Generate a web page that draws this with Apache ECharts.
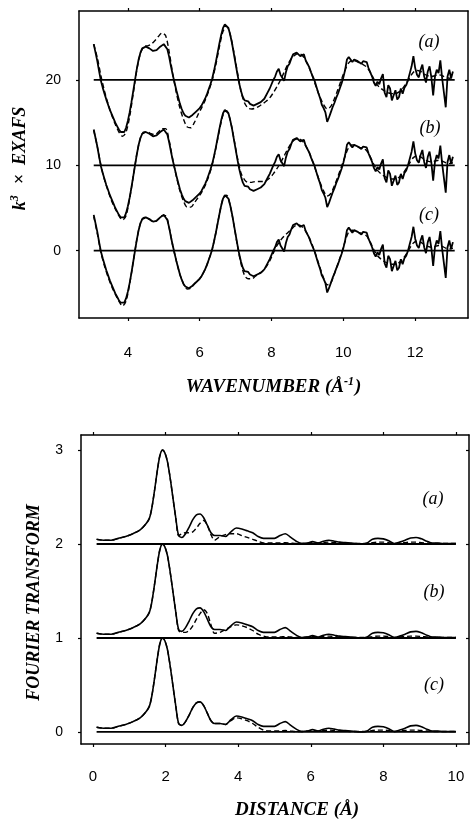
<!DOCTYPE html>
<html><head><meta charset="utf-8">
<script src="https://cdn.jsdelivr.net/npm/echarts@6/dist/echarts.min.js"></script>
<style>html,body{margin:0;padding:0;background:#fff}#c{width:470px;height:821px}</style>
</head><body><div id="c"></div>
<script>
// ---------- EXAFS (top panel) ----------
const exafsKStart = 3.05, exafsKStep = 0.05;
const exafsExp = [
 4.2, 3.2, 2.2, 1.0, -0.1, -0.9, -1.6, -2.3, -2.9, -3.5,
 -4.0, -4.5, -5.0, -5.4, -5.8, -6.1, -6.2, -6.1, -5.6, -4.8,
 -3.8, -2.6, -1.3, 0.0, 1.3, 2.4, 3.2, 3.7, 3.9, 3.9,
 3.8, 3.7, 3.5, 3.4, 3.4, 3.5, 3.7, 3.9, 4.1, 4.2,
 4.1, 3.6, 2.7, 1.6, 0.6, -0.3, -1.2, -2.0, -2.8, -3.4,
 -3.9, -4.2, -4.4, -4.4, -4.3, -4.1, -3.9, -3.7, -3.5, -3.3,
 -3.0, -2.6, -2.2, -1.7, -1.1, -0.5, 0.2, 1.1, 2.1, 3.2,
 4.3, 5.3, 6.1, 6.5, 6.5, 6.1, 5.3, 4.3, 3.1, 1.9,
 0.7, -0.4, -1.3, -2.0, -2.4, -2.6, -2.5, -2.8, -2.7, -3.0,
 -3.1, -2.8, -3.0, -2.6, -2.5, -2.2, -2.0, -1.4, -1.0, -0.5,
 0.0, 0.4, 1.0, 1.3, 0.6, 0.5, -0.1, 0.9, 1.6, 1.9,
 2.5, 3.0, 2.8, 3.2, 3.3, 2.8, 2.9, 3.0, 2.3, 1.9,
 1.5, 0.9, 0.4, -0.1, -0.8, -1.5, -2.1, -2.9, -3.3, -3.8,
 -4.9, -4.4, -3.8, -3.2, -2.7, -2.1, -1.6, -1.0, -0.4, 0.3,
 1.2, 2.4, 2.7, 2.5, 2.1, 2.4, 2.5, 2.2, 2.0, 1.9,
 2.2, 2.0, 2.1, 1.4, 0.9, 0.4, -0.3, -0.7, -0.2, -0.5,
 0.2, 0.7, -1.5, -2.0, -0.6, -1.0, -2.4, -1.8, -1.2, -2.3,
 -2.0, -1.0, -1.6, -0.9, -0.6, 0.0, 0.8, 1.6, 2.8, 1.4,
 0.6, 0.3, 1.2, 1.8, 0.4, -0.3, 1.0, 1.6, 0.3, -1.8,
 0.4, 1.2, 0.8, 2.3, 0.2, -1.5, -3.2, 0.4, 1.2, 0.2,
 1.0
];
const fitKStart = 3.05, fitKStep = 0.1;
const exafsFitA = [
 4.2, 2.6, 0.5, -1.3, -2.8, -4.1, -5.2, -6.1, -6.6, -6.1,
 -4.3, -1.6, 1.2, 3.1, 3.9, 4.0, 4.2, 4.6, 5.1, 5.5,
 5.2, 3.3, 0.7, -1.5, -3.3, -4.6, -5.5, -5.6, -5.0, -4.1,
 -3.3, -2.4, -1.3, 0.0, 1.8, 3.9, 5.7, 6.3, 5.3, 3.3,
 0.9, -1.3, -2.7, -3.3, -3.4, -3.3, -3.1, -2.8, -2.5, -2.1,
 -1.5, -0.8, 0.0, 0.9, 1.8, 2.5, 2.9, 3.1, 2.9, 2.3,
 1.4, 0.3, -0.9, -2.0, -2.9, -3.4, -3.1, -2.2, -1.1, 0.1,
 1.2, 2.0, 2.3, 2.2, 2.0, 1.8, 1.5, 0.9, 0.1, -0.6,
 -1.0, -1.3, -1.5, -1.6, -1.6, -1.4, -1.0, -0.4, 0.3, 0.9,
 1.1, 1.0, 0.7, 0.5, 0.4, 0.5, 0.6, 0.5, 0.3, 0.2,
 0.3
];
const exafsFitB = [
 4.1, 2.2, 0.0, -1.7, -3.0, -4.2, -5.1, -5.9, -6.4, -5.9,
 -3.9, -1.3, 1.3, 3.2, 3.9, 3.9, 3.7, 3.6, 3.9, 4.3,
 4.3, 2.9, 0.7, -1.3, -3.0, -4.2, -4.9, -4.9, -4.4, -3.8,
 -3.2, -2.4, -1.3, 0.1, 2.0, 4.1, 5.9, 6.4, 5.3, 3.2,
 0.9, -0.9, -1.7, -2.0, -2.0, -1.9, -1.9, -1.9, -1.8, -1.5,
 -1.0, -0.4, 0.3, 1.1, 1.9, 2.6, 3.0, 3.1, 2.9, 2.3,
 1.5, 0.4, -0.8, -2.0, -3.0, -3.6, -3.3, -2.4, -1.3, -0.1,
 1.1, 2.1, 2.4, 2.3, 2.1, 2.0, 1.7, 1.0, 0.1, -0.6,
 -1.0, -1.3, -1.5, -1.6, -1.6, -1.4, -1.0, -0.4, 0.3, 0.9,
 1.1, 1.0, 0.7, 0.5, 0.4, 0.5, 0.6, 0.5, 0.3, 0.2,
 0.3
];
const exafsFitC = [
 4.0, 2.0, -0.2, -1.8, -3.1, -4.2, -5.1, -5.9, -6.5, -5.9,
 -3.9, -1.3, 1.3, 3.2, 3.9, 3.8, 3.5, 3.4, 3.7, 4.1,
 4.1, 2.7, 0.6, -1.2, -2.8, -3.9, -4.5, -4.4, -3.9, -3.5,
 -3.0, -2.2, -1.1, 0.2, 2.1, 4.3, 6.1, 6.5, 5.3, 3.1,
 0.6, -1.5, -2.9, -3.3, -3.3, -3.0, -2.7, -2.4, -1.9, -1.2,
 -0.3, 0.6, 1.2, 1.7, 2.1, 2.5, 2.9, 3.0, 2.8, 2.3,
 1.5, 0.5, -0.7, -2.0, -3.2, -4.0, -3.8, -2.7, -1.5, -0.3,
 1.1, 2.2, 2.4, 2.3, 2.1, 2.0, 1.7, 1.0, 0.1, -0.6,
 -1.0, -1.3, -1.5, -1.6, -1.6, -1.4, -1.0, -0.4, 0.3, 0.9,
 1.1, 1.0, 0.7, 0.5, 0.4, 0.5, 0.6, 0.5, 0.3, 0.2,
 0.3
];
const exafsOffsets = [20, 10, 0];
const exafsBaseRange = [3.05, 13.1];
const exafsXTicks = [4, 6, 8, 10, 12];
const exafsYTicks = [0, 10, 20];

// ---------- Fourier transform (bottom panel) ----------
const ftR = [
 0.1, 0.3, 0.5, 0.7, 0.9, 1.1, 1.3, 1.45, 1.55, 1.62,
 1.7, 1.78, 1.85, 1.92, 1.98, 2.05, 2.12, 2.2, 2.28, 2.36,
 2.45, 2.55, 2.65, 2.75, 2.85, 2.95, 3.05, 3.15, 3.25, 3.35,
 3.5, 3.65, 3.8, 3.95, 4.1, 4.25, 4.4, 4.55, 4.7, 4.85,
 5.0, 5.15, 5.3, 5.45, 5.6, 5.75, 5.9, 6.05, 6.2, 6.35,
 6.5, 6.65, 6.8, 6.95, 7.1, 7.25, 7.4, 7.55, 7.7, 7.85,
 8.0, 8.15, 8.3, 8.45, 8.6, 8.75, 8.9, 9.05, 9.2, 9.35,
 9.5, 9.65, 9.8, 10.0
];
const ftExp = [
 0.05, 0.04, 0.04, 0.06, 0.08, 0.11, 0.15, 0.21, 0.27, 0.38,
 0.58, 0.80, 0.95, 1.00, 0.97, 0.88, 0.72, 0.50, 0.28, 0.09,
 0.07, 0.11, 0.18, 0.26, 0.31, 0.32, 0.28, 0.20, 0.12, 0.09,
 0.09, 0.08, 0.13, 0.17, 0.16, 0.14, 0.12, 0.08, 0.06, 0.06,
 0.06, 0.09, 0.11, 0.07, 0.03, 0.005, 0.01, 0.025, 0.01, 0.03,
 0.04, 0.03, 0.02, 0.015, 0.01, 0.005, 0.0, 0.01, 0.05, 0.06,
 0.055, 0.035, 0.005, 0.02, 0.04, 0.065, 0.07, 0.055, 0.03, 0.01,
 0.01, 0.005, 0.005, 0.005
];
const ftFitA = [
 0.05, 0.04, 0.04, 0.06, 0.08, 0.11, 0.15, 0.21, 0.27, 0.38,
 0.58, 0.80, 0.95, 1.00, 0.97, 0.88, 0.72, 0.50, 0.28, 0.09,
 0.11, 0.12, 0.12, 0.13, 0.17, 0.22, 0.25, 0.20, 0.10, 0.04,
 0.08, 0.10, 0.11, 0.11, 0.09, 0.07, 0.05, 0.03, 0.01, 0.01,
 0.01, 0.01, 0.015, 0.01, 0.005, 0.005, 0.01, 0.015, 0.01, 0.015,
 0.02, 0.015, 0.01, 0.01, 0.005, 0.005, 0.005, 0.005, 0.015, 0.02,
 0.02, 0.015, 0.005, 0.01, 0.015, 0.02, 0.02, 0.015, 0.01, 0.005,
 0.005, 0.005, 0.005, 0.005
];
const ftFitB = [
 0.05, 0.04, 0.04, 0.06, 0.08, 0.11, 0.15, 0.21, 0.27, 0.38,
 0.58, 0.80, 0.95, 1.00, 0.97, 0.88, 0.72, 0.50, 0.28, 0.08,
 0.06, 0.06, 0.08, 0.13, 0.20, 0.26, 0.30, 0.26, 0.14, 0.05,
 0.06, 0.09, 0.12, 0.14, 0.13, 0.11, 0.08, 0.04, 0.02, 0.01,
 0.01, 0.01, 0.015, 0.01, 0.005, 0.005, 0.01, 0.015, 0.01, 0.015,
 0.02, 0.015, 0.01, 0.01, 0.005, 0.005, 0.005, 0.005, 0.015, 0.02,
 0.02, 0.015, 0.005, 0.01, 0.015, 0.02, 0.02, 0.015, 0.01, 0.005,
 0.005, 0.005, 0.005, 0.005
];
const ftFitC = [
 0.05, 0.04, 0.04, 0.06, 0.08, 0.11, 0.15, 0.21, 0.27, 0.38,
 0.58, 0.80, 0.95, 1.00, 0.97, 0.88, 0.72, 0.50, 0.28, 0.09,
 0.07, 0.11, 0.18, 0.26, 0.31, 0.32, 0.28, 0.20, 0.12, 0.09,
 0.09, 0.08, 0.12, 0.15, 0.14, 0.12, 0.09, 0.05, 0.02, 0.01,
 0.01, 0.01, 0.015, 0.01, 0.005, 0.005, 0.01, 0.015, 0.01, 0.015,
 0.02, 0.015, 0.01, 0.01, 0.005, 0.005, 0.005, 0.005, 0.015, 0.02,
 0.02, 0.015, 0.005, 0.01, 0.015, 0.02, 0.02, 0.015, 0.01, 0.005,
 0.005, 0.005, 0.005, 0.005
];
const ftOffsets = [2, 1, 0];
const ftBaseRange = [0.1, 10.0];
const ftXTicks = [0, 2, 4, 6, 8, 10];
const ftYTicks = [0, 1, 2, 3];
const panelLabels = ['(a)', '(b)', '(c)'];

// ---------- build ----------
const r3 = v => Math.round(v * 1000) / 1000;
const gridPts = (start, step, vals, off) => vals.map((v, i) => [r3(start + i * step), r3(v + off)]);
const xyPts = (xs, vals, off) => vals.map((v, i) => [xs[i], r3(v + off)]);

const BLK = '#000';
const serifName = {fontFamily: 'Liberation Serif', fontStyle: 'italic', fontWeight: 'bold', fontSize: 19, color: BLK};
const serifNameV = Object.assign({}, serifName, {fontSize: 18});
const tickLabel = {color: BLK, fontFamily: 'Liberation Sans', fontSize: 15};

function frameAxis(extra) {
  return Object.assign({
    type: 'value',
    axisLine: {show: true, onZero: false, lineStyle: {color: BLK, width: 1.5}},
    splitLine: {show: false},
    axisTick: {show: true, inside: false, length: 3, lineStyle: {color: BLK, width: 1.2}},
  }, extra);
}

const series = [];
const solid = {color: BLK, width: 1.8};
const dashed = {color: BLK, width: 1.4, type: [5, 3]};
const exafsFits = [exafsFitA, exafsFitB, exafsFitC];
const ftFits = [ftFitA, ftFitB, ftFitC];

exafsOffsets.forEach((off, i) => {
  series.push({type: 'line', xAxisIndex: 0, yAxisIndex: 0, symbol: 'none', silent: true,
    lineStyle: {color: BLK, width: 1.8}, data: [[exafsBaseRange[0], off], [exafsBaseRange[1], off]]});
  series.push({type: 'line', xAxisIndex: 0, yAxisIndex: 0, symbol: 'none', silent: true, smooth: 0.3,
    lineStyle: dashed, data: gridPts(fitKStart, fitKStep, exafsFits[i], off)});
  series.push({type: 'line', xAxisIndex: 0, yAxisIndex: 0, symbol: 'none', silent: true,
    lineStyle: solid, data: gridPts(exafsKStart, exafsKStep, exafsExp, off)});
});
ftOffsets.forEach((off, i) => {
  series.push({type: 'line', xAxisIndex: 2, yAxisIndex: 2, symbol: 'none', silent: true,
    lineStyle: {color: BLK, width: 1.8}, data: [[ftBaseRange[0], off], [ftBaseRange[1], off]]});
  series.push({type: 'line', xAxisIndex: 2, yAxisIndex: 2, symbol: 'none', silent: true, smooth: 0.3,
    lineStyle: dashed, data: xyPts(ftR, ftFits[i], off)});
  series.push({type: 'line', xAxisIndex: 2, yAxisIndex: 2, symbol: 'none', silent: true, smooth: 0.3,
    lineStyle: {color: BLK, width: 1.6}, data: xyPts(ftR, ftExp, off)});
});

const labelStyle = {fontFamily: 'Liberation Serif', fontStyle: 'italic', fontSize: 18, fill: BLK};
const topLabelPos = [[429, 42], [430, 128], [429, 215]];
const botLabelPos = [[433, 499], [434, 592], [434, 685]];
const graphic = [];
panelLabels.forEach((t, i) => {
  graphic.push({type: 'text', x: topLabelPos[i][0], y: topLabelPos[i][1],
    style: Object.assign({text: t, align: 'center', verticalAlign: 'middle'}, labelStyle)});
  graphic.push({type: 'text', x: botLabelPos[i][0], y: botLabelPos[i][1],
    style: Object.assign({text: t, align: 'center', verticalAlign: 'middle'}, labelStyle)});
});

const option = {
  animation: false,
  backgroundColor: '#fff',
  grid: [
    {left: 79, top: 11, width: 389, height: 307},
    {left: 81, top: 435, width: 388, height: 309}
  ],
  xAxis: [
    frameAxis({gridIndex: 0, position: 'bottom', min: 2.64, max: 13.47,
      axisTick: {show: true, length: 3, customValues: exafsXTicks, lineStyle: {color: BLK, width: 1.2}},
      axisLabel: Object.assign({customValues: exafsXTicks, margin: 27}, tickLabel),
      name: '{t|WAVENUMBER (Å}{s|-1}{t|)}', nameLocation: 'middle', nameGap: 58,
      nameTextStyle: {rich: {t: serifName, s: Object.assign({}, serifName, {fontSize: 12, padding: [0, 1, 10, 0]})}}}),
    frameAxis({gridIndex: 0, position: 'top', min: 2.64, max: 13.47,
      axisTick: {show: true, length: 3, customValues: exafsXTicks, lineStyle: {color: BLK, width: 1.2}},
      axisLabel: {show: false}}),
    frameAxis({gridIndex: 1, position: 'bottom', min: -0.33, max: 10.36,
      axisTick: {show: true, length: 3, customValues: ftXTicks, lineStyle: {color: BLK, width: 1.2}},
      axisLabel: Object.assign({customValues: ftXTicks, margin: 25}, tickLabel),
      name: 'DISTANCE (Å)', nameLocation: 'middle', nameGap: 57,
      nameTextStyle: Object.assign({}, serifName, {padding: [0, 0, 0, 44]})}),
    frameAxis({gridIndex: 1, position: 'top', min: -0.33, max: 10.36,
      axisTick: {show: true, length: 3, customValues: ftXTicks, lineStyle: {color: BLK, width: 1.2}},
      axisLabel: {show: false}})
  ],
  yAxis: [
    frameAxis({gridIndex: 0, position: 'left', min: -7.89, max: 28.08,
      axisTick: {show: true, length: 3, customValues: exafsYTicks, lineStyle: {color: BLK, width: 1.2}},
      axisLabel: Object.assign({customValues: exafsYTicks, margin: 18}, tickLabel, {fontSize: 14}),
      name: '{k|k}{s|3}{t|  ×  EXAFS}', nameLocation: 'middle', nameGap: 48,
      nameTextStyle: {padding: [0, 0, 0, 12], rich: {k: serifNameV, t: serifNameV, s: Object.assign({}, serifNameV, {fontSize: 12, padding: [0, 2, 10, 0]})}}}),
    frameAxis({gridIndex: 0, position: 'right', min: -7.89, max: 28.08,
      axisTick: {show: true, length: 3, inside: true, customValues: exafsYTicks, lineStyle: {color: BLK, width: 1.2}},
      axisLabel: {show: false}}),
    frameAxis({gridIndex: 1, position: 'left', min: -0.128, max: 3.16,
      axisTick: {show: true, length: 3, customValues: ftYTicks, lineStyle: {color: BLK, width: 1.2}},
      axisLabel: Object.assign({customValues: ftYTicks, margin: 18}, tickLabel, {fontSize: 14}),
      name: 'FOURIER TRANSFORM', nameLocation: 'middle', nameGap: 38,
      nameTextStyle: Object.assign({}, serifNameV, {padding: [0, 26, 0, 0]})}),
    frameAxis({gridIndex: 1, position: 'right', min: -0.128, max: 3.16,
      axisTick: {show: true, length: 3, inside: true, customValues: ftYTicks, lineStyle: {color: BLK, width: 1.2}},
      axisLabel: {show: false}})
  ],
  graphic: graphic,
  series: series
};

const chart = echarts.init(document.getElementById('c'), null, {renderer: 'canvas'});
chart.setOption(option);
</script>
</body></html>
